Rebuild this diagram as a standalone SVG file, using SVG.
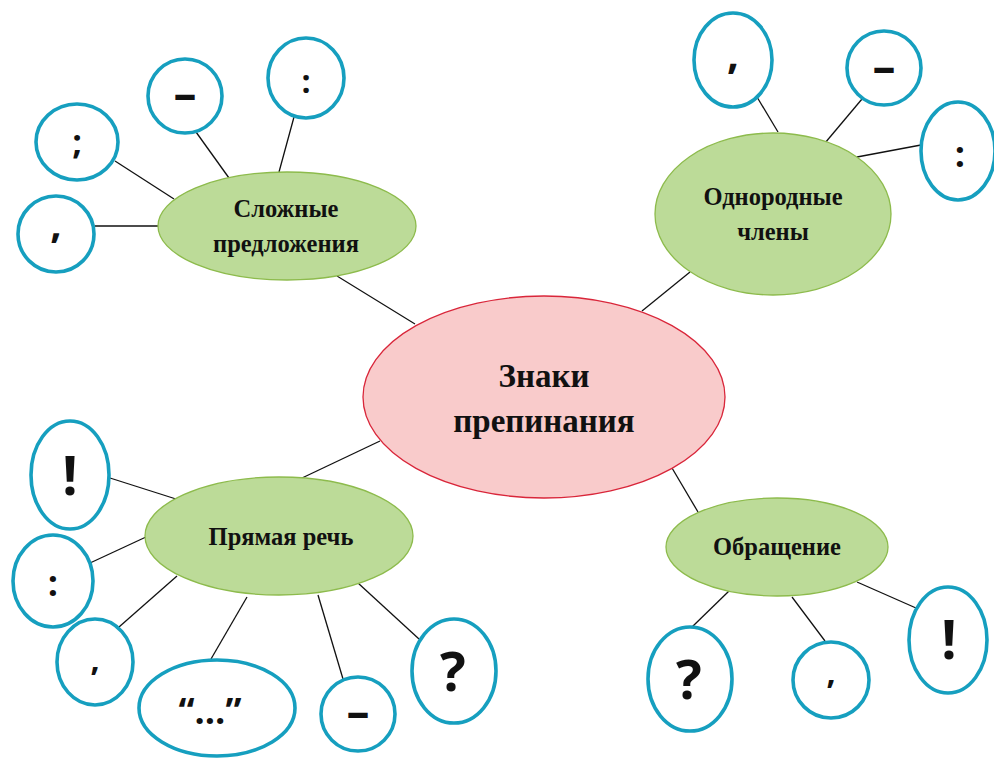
<svg xmlns="http://www.w3.org/2000/svg" width="994" height="758" viewBox="0 0 994 758">
<style>
.bg{fill:#ffffff}
.ln{stroke:#111;stroke-width:1.3;fill:none}
.cen{fill:#f9cbcb;stroke:#d9263a;stroke-width:1.3}
.grn{fill:#bcdb98;stroke:#8dbb4c;stroke-width:1.3}
.sym{fill:#fff;stroke:#169fbf;stroke-width:3.6}
.t{font-family:"Liberation Serif","Times New Roman",serif;font-weight:bold;fill:#111;text-anchor:middle}
.s{font-family:"Open Sans","Noto Sans",sans-serif;font-weight:bold;fill:#111;text-anchor:middle}
</style>
<rect class="bg" x="0" y="0" width="994" height="758"/>
<g id="connectors">
<line class="ln" x1="337" y1="276" x2="415" y2="324"/>
<line class="ln" x1="115" y1="161" x2="174" y2="199"/>
<line class="ln" x1="196" y1="132" x2="229" y2="178"/>
<line class="ln" x1="294" y1="117" x2="279" y2="172"/>
<line class="ln" x1="95" y1="226" x2="158" y2="226"/>
<line class="ln" x1="642" y1="311" x2="690" y2="272"/>
<line class="ln" x1="757" y1="97" x2="778" y2="132"/>
<line class="ln" x1="862" y1="99" x2="825" y2="143"/>
<line class="ln" x1="921" y1="145" x2="857" y2="157"/>
<line class="ln" x1="380" y1="441" x2="302" y2="478"/>
<line class="ln" x1="110" y1="478" x2="176" y2="499"/>
<line class="ln" x1="90" y1="563" x2="146" y2="537"/>
<line class="ln" x1="119" y1="627" x2="177" y2="576"/>
<line class="ln" x1="211" y1="659" x2="247" y2="597"/>
<line class="ln" x1="343" y1="679" x2="318" y2="595"/>
<line class="ln" x1="419" y1="639" x2="358" y2="583"/>
<line class="ln" x1="672" y1="468" x2="698" y2="512"/>
<line class="ln" x1="692" y1="627" x2="729" y2="591"/>
<line class="ln" x1="825" y1="641" x2="792" y2="597"/>
<line class="ln" x1="916" y1="608" x2="857" y2="582"/>
</g>
<g id="center">
<ellipse class="cen" cx="544" cy="397" rx="181" ry="101"/>
<text class="t" x="544" y="387" font-size="33">Знаки</text>
<text class="t" x="544" y="432" font-size="33">препинания</text>
</g>
<g id="slozhnye">
<ellipse class="grn" cx="287" cy="226" rx="129" ry="54"/>
<text class="t" x="286" y="217" font-size="24.5">Сложные</text>
<text class="t" x="286" y="252" font-size="24.5">предложения</text>
</g>
<g id="odnorodnye">
<ellipse class="grn" cx="773" cy="214" rx="118" ry="81"/>
<text class="t" x="773" y="205" font-size="24.5">Однородные</text>
<text class="t" x="773" y="240" font-size="24.5">члены</text>
</g>
<g id="pryamaya">
<ellipse class="grn" cx="279" cy="536" rx="134" ry="59"/>
<text class="t" x="281" y="545" font-size="24.5">Прямая речь</text>
</g>
<g id="obrashchenie">
<ellipse class="grn" cx="777" cy="547" rx="111" ry="49"/>
<text class="t" x="777" y="555" font-size="24.5">Обращение</text>
</g>
<g id="sl-semicolon"><ellipse class="sym" cx="77" cy="142" rx="41" ry="38"/><text class="s" x="77" y="154" font-size="34">;</text></g>
<g id="sl-dash"><ellipse class="sym" cx="185" cy="96" rx="37" ry="37"/><text class="s" x="185" y="110" font-size="46">–</text></g>
<g id="sl-colon"><ellipse class="sym" cx="306" cy="78" rx="38" ry="40"/><text class="s" x="306" y="93" font-size="32">:</text></g>
<g id="sl-comma"><ellipse class="sym" cx="56" cy="234" rx="38" ry="38"/><text class="s" x="56" y="238" font-size="40">,</text></g>
<g id="od-comma"><ellipse class="sym" cx="733" cy="60" rx="39" ry="47"/><text class="s" x="733" y="69" font-size="42">,</text></g>
<g id="od-dash"><ellipse class="sym" cx="884" cy="68" rx="37" ry="37"/><text class="s" x="884" y="83" font-size="46">–</text></g>
<g id="od-colon"><ellipse class="sym" cx="958" cy="151" rx="37" ry="49"/><text class="s" x="960" y="167" font-size="36">:</text></g>
<g id="pr-excl"><ellipse class="sym" cx="70" cy="475" rx="39" ry="54"/><text class="s" x="70" y="495" font-size="54">!</text></g>
<g id="pr-colon"><ellipse class="sym" cx="53" cy="581" rx="40" ry="46"/><text class="s" x="53" y="596" font-size="36">:</text></g>
<g id="pr-comma"><ellipse class="sym" cx="95" cy="662" rx="38" ry="43"/><text class="s" x="95" y="671" font-size="32">,</text></g>
<g id="pr-quote"><ellipse class="sym" cx="217" cy="708" rx="78" ry="48"/><text class="s" x="210" y="724" font-size="36">“…”</text></g>
<g id="pr-dash"><ellipse class="sym" cx="358" cy="714" rx="37" ry="37"/><text class="s" x="358" y="728" font-size="46">–</text></g>
<g id="pr-quest"><ellipse class="sym" cx="454" cy="671" rx="42" ry="52"/><text class="s" x="453" y="691" font-size="54">?</text></g>
<g id="ob-quest"><ellipse class="sym" cx="690" cy="679" rx="42" ry="52"/><text class="s" x="689" y="699" font-size="54">?</text></g>
<g id="ob-comma"><ellipse class="sym" cx="831" cy="680" rx="38" ry="38"/><text class="s" x="831" y="684" font-size="32">,</text></g>
<g id="ob-excl"><ellipse class="sym" cx="948" cy="640" rx="39" ry="53"/><text class="s" x="949" y="659" font-size="54">!</text></g>
</svg>
